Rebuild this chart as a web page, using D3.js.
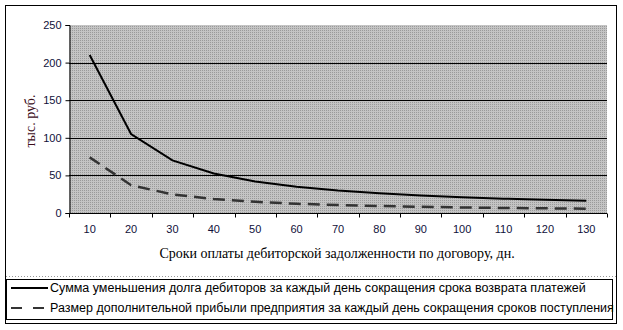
<!DOCTYPE html>
<html>
<head>
<meta charset="utf-8">
<script src="https://cdn.jsdelivr.net/npm/d3@7"></script>
<style>
    body { margin: 0; background: #fff; }
    text { font-family: Arial, "Liberation Sans", sans-serif; }
</style>
</head>
<body>
<div id="chart"></div>
<script>
// days (category axis)
const days = [10, 20, 30, 40, 50, 60, 70, 80, 90, 100, 110, 120, 130];
// debt reduction per day, thousand rub.
const debtValues = [210, 105, 70, 52.5, 42, 35, 30, 26.3, 23.3, 21, 19.1, 17.5, 16.2];
// additional profit per day, thousand rub.
const profitValues = [74, 37, 24.7, 18.5, 14.8, 12.3, 10.6, 9.3, 8.2, 7.4, 6.7, 6.2, 5.7];
const yTicks = [0, 50, 100, 150, 200, 250];
const seriesNames = [
    "Сумма уменьшения долга дебиторов за каждый день сокращения срока возврата платежей",
    "Размер дополнительной прибыли предприятия за каждый день сокращения сроков поступления"
];

const W = 623, H = 330;
const plot = { left: 69, top: 25, right: 607, bottom: 213 };

let svg = d3.select("#chart").append("svg")
    .attr("width", W)
    .attr("height", H);

// dotted grey fill like the old Excel pattern
let defs = svg.append("defs");
let pat = defs.append("pattern")
    .attr("id", "dots")
    .attr("width", 2)
    .attr("height", 2)
    .attr("patternUnits", "userSpaceOnUse");
pat.append("rect").attr("width", 2).attr("height", 2).attr("fill", "#c4c4c4");
pat.append("rect").attr("width", 1).attr("height", 1).attr("fill", "#9a9a9a");

// outer frame
svg.append("rect")
    .attr("x", 5.5).attr("y", 5.5)
    .attr("width", 611).attr("height", 318)
    .attr("fill", "#fff")
    .attr("stroke", "#000");

let x = d3.scaleBand()
    .domain(days)
    .range([plot.left, plot.right])
    .padding(0);

let y = d3.scaleLinear()
    .domain([0, 250])
    .range([plot.bottom, plot.top]);

svg.append("rect")
    .attr("x", plot.left).attr("y", plot.top)
    .attr("width", plot.right - plot.left)
    .attr("height", plot.bottom - plot.top)
    .attr("fill", "url(#dots)");

// gridlines
svg.append("g")
    .selectAll("line")
    .data(yTicks.filter(d => d > 0 && d < 250))
    .enter()
    .append("line")
    .attr("x1", plot.left)
    .attr("x2", plot.right)
    .attr("y1", d => Math.round(y(d)) + 0.5)
    .attr("y2", d => Math.round(y(d)) + 0.5)
    .attr("stroke", "#000");

// y axis
let yAxis = svg.append("g")
    .attr("transform", "translate(" + (plot.left + 0.5) + ",0)")
    .call(d3.axisLeft(y).tickValues(yTicks).tickSize(4).tickPadding(4));
yAxis.selectAll("text")
    .style("font-size", "11px")
    .attr("fill", "#10103a");

// x axis with ticks on category boundaries
let xAxis = svg.append("g")
    .attr("transform", "translate(0," + (plot.bottom + 0.5) + ")")
    .call(d3.axisBottom(x).tickSize(0).tickPadding(12));
xAxis.select(".domain").remove();
xAxis.selectAll("text")
    .style("font-size", "11px")
    .attr("fill", "#10103a");
xAxis.append("line")
    .attr("x1", plot.left).attr("x2", plot.right)
    .attr("stroke", "#000");
xAxis.selectAll(".bound")
    .data(days.concat([null]))
    .enter()
    .append("line")
    .attr("class", "bound")
    .attr("x1", (d, i) => Math.round(plot.left + i * x.bandwidth()) + 0.5)
    .attr("x2", (d, i) => Math.round(plot.left + i * x.bandwidth()) + 0.5)
    .attr("y1", 0)
    .attr("y2", 4)
    .attr("stroke", "#000");

// lines
let line = d3.line()
    .x((d, i) => x(days[i]) + x.bandwidth() / 2)
    .y(d => y(d));

svg.append("path")
    .datum(debtValues)
    .attr("d", line)
    .attr("fill", "none")
    .attr("stroke", "#000")
    .attr("stroke-width", 2);

svg.append("path")
    .datum(profitValues)
    .attr("d", line)
    .attr("fill", "none")
    .attr("stroke", "#333")
    .attr("stroke-width", 2.5)
    .attr("stroke-dasharray", "12,7");

// axis titles
svg.append("text")
    .attr("transform", "translate(35,121) rotate(-90)")
    .attr("text-anchor", "middle")
    .style("font-family", "'Liberation Serif', 'Times New Roman', serif")
    .style("font-size", "14px")
    .attr("fill", "#3b0d1a")
    .text("тыс. руб.");

svg.append("text")
    .attr("x", 337)
    .attr("y", 258)
    .attr("text-anchor", "middle")
    .style("font-family", "'Liberation Serif', 'Times New Roman', serif")
    .style("font-size", "14px")
    .attr("fill", "#000")
    .text("Сроки оплаты дебиторской задолженности по договору, дн.");

// legend
svg.append("line")
    .attr("x1", 6).attr("x2", 616)
    .attr("y1", 276.5).attr("y2", 276.5)
    .attr("stroke", "#999")
    .attr("stroke-dasharray", "1,2");

let legend = svg.append("g");
legend.append("rect")
    .attr("x", 6.5).attr("y", 279.5)
    .attr("width", 606).attr("height", 40)
    .attr("fill", "#fff")
    .attr("stroke", "#000");

let legendY = [288, 308];
seriesNames.forEach(function (name, i) {
    legend.append("line")
        .attr("x1", 11).attr("x2", 48)
        .attr("y1", legendY[i]).attr("y2", legendY[i])
        .attr("stroke", i === 0 ? "#000" : "#333")
        .attr("stroke-width", 2)
        .attr("stroke-dasharray", i === 0 ? null : "11,11");

    legend.append("text")
        .attr("x", 50)
        .attr("y", legendY[i] + 4)
        .style("font-size", "12.5px")
        .attr("fill", "#000")
        .text(name);
});
</script>
</body>
</html>
